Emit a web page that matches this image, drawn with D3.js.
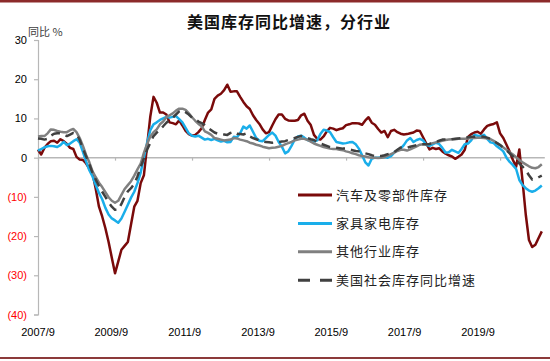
<!DOCTYPE html>
<html><head><meta charset="utf-8">
<script src="https://cdn.jsdelivr.net/npm/d3@7"></script>
<style>
html,body{margin:0;padding:0;background:#fff;}
svg{display:block;}
</style></head>
<body>
<svg id="chart" width="550" height="361"></svg>
<script>
// ---- data (monthly, 2007/9 .. 2020/10) ----
const startYear = 2007, startMonth = 9;
const tickLabels = ["2007/9","2009/9","2011/9","2013/9","2015/9","2017/9","2019/9"];
const yTicks = [30,20,10,0,-10,-20,-30,-40];
const seriesNames = ["汽车及零部件库存","家具家电库存","其他行业库存","美国社会库存同比增速"];

const autoParts = [2,0.8,2.5,3.5,4.2,4.3,3.8,4.7,4.2,3.5,2.5,2.2,0.2,-0.5,-0.6,-1.5,-2.8,-4,-8,-12.5,
-15,-18,-21.5,-25.5,-29.5,-26.5,-23.5,-22.5,-21.5,-17,-12.5,-11,-6.5,-4.5,3,10.5,15.5,14,11.5,11.5,
11,9,8.8,8.5,9.5,8.2,6.8,6,5.6,5.8,6.5,7.5,9.6,11.5,12.3,15,15.8,16.3,17.2,18.6,
16.8,16.9,16.9,15.5,14.2,13.1,12.4,10.8,9.6,8.6,7.2,6.2,6.5,8.2,9.8,11,11,9.9,9.5,9.4,
9.4,9.6,10.8,11.2,9.4,8.3,5.8,4.8,4.6,5.4,6.7,7.6,7.4,7,7.3,7.5,8.3,8.5,8.8,8.8,
8.7,8.4,9.5,10.3,8.9,8.4,7.3,6.4,6.8,5.2,6.8,7.1,6.5,6.1,5.9,6,6.2,6.4,6.9,6.8,
5.2,3.6,2.1,2.5,2.2,2.4,1.6,1,0.6,0.3,-0.3,0.2,0.8,2,5.3,6,6.4,6.6,6.1,7.2,
8.1,8.4,8.6,9,6.2,5,3.3,1.5,-0.6,-2.3,2.1,-6,-14.5,-21,-22.8,-22.2,-20.5,-18.8];

const furniture = [1.8,2.2,2.6,2.9,3,2.9,2.7,3.2,4,3.2,3.6,4.2,4.7,3.8,1.5,-1,-3.2,-4.8,-7,-9,
-10.6,-12.8,-14.5,-15.5,-16,-16.6,-15.5,-13.8,-12,-10.2,-8.7,-6.5,-3.8,0,3.8,7,8.5,9,9.6,10,
10.4,10.2,10.4,10.6,9.8,9,7.6,6.2,5.6,5.4,5.6,5.1,4.6,4.8,4.5,4.8,4.4,4.1,4.3,3.9,
4,5.3,5.2,6.2,7.9,7.4,8.2,6.6,5,4.3,4.2,5,5.8,6.4,5.6,4,2.8,1.1,1.6,3,
4.6,5.4,5.6,5.1,4.5,4.2,4.1,4.4,6,7.1,6.9,6.5,5.2,4,3.8,3.6,3.7,3.9,4,3.4,
2.3,0.6,-1.2,-2,-0.3,0,0,0.1,0.1,0,0.4,1.3,1.9,2.3,3.2,4.4,5,4,4.5,4.8,
4.4,3.3,3,3.4,3.8,3.5,2.5,1.3,1.4,2,1.6,1.2,2.2,3.4,3.6,4.4,5.8,5.6,5.4,5.8,
4.8,3.9,3.7,2.9,2.3,1.6,0,-1.1,-1.9,-2.9,-5.7,-7,-7.8,-8.4,-8.7,-8.4,-7.8,-7.1];

const otherInd = [5.4,5.5,5.5,6.2,7.2,7.1,6.8,6.6,6.5,6.5,7,7.3,6.5,5,3,0.7,-1.2,-3.5,-5,-6.4,
-7.5,-8.8,-10.1,-11,-11.5,-11,-9.5,-8,-7,-6,-4.6,-3,-1.5,1.2,3.5,5.4,6.5,7.2,8.5,9.2,
10.3,10.8,11.3,12,12.5,12.5,12.2,11.3,10.3,9.4,8.6,8,6.7,6.3,5.8,5,4.8,4.6,4.4,4.5,
4.6,5,4.9,4.6,4.4,4.2,3.8,3.6,3.3,3.1,2.8,2.6,2.4,2.5,2.6,2.8,3,3.4,3.7,4,
4.4,4.6,4.8,4.8,4.5,4.1,3.6,3.3,3,2.7,2.5,2.3,2.2,2.2,2,1.9,1.6,1.4,1.1,0.9,
0.6,0.4,0.3,0.1,0,0,-0.1,0,0.1,0.5,0.9,1.3,1.7,2,2,1.8,2.1,2.5,2.9,3.3,
3.4,3.4,3.5,3.7,3.9,4.1,4.3,4.5,4.6,4.7,4.7,4.8,4.8,4.8,4.9,5,5,5.1,5.1,5,
4.9,4.7,4.3,3.8,3.2,2.6,2,1.4,0.8,0.1,-0.6,-1.2,-1.7,-2.2,-2.6,-2.7,-2.4,-1.7];

const totalUS = [4.9,4.8,4.6,4.8,5.6,6.1,6.2,6.2,5.9,5.5,5.9,6.3,6,4.5,2.3,0.3,-1.6,-3.9,-5.6,-7.3,
-8.7,-10,-11.4,-12.5,-13.3,-13.2,-11.8,-10,-8.6,-7.8,-6.7,-4.8,-2.4,-0.2,2,3.8,5.5,6.4,7.2,8,
8.9,9.6,10.2,11,11.8,12.1,11.6,11,10.2,9.8,9.2,8.8,8.3,7.6,7,6.4,6.1,6,5.9,5.8,
6.3,6.6,6.1,6,5.9,6.2,5.4,5,4.7,4.4,4.1,4,3.9,3.8,3.9,4,4.1,4.2,4.5,4.8,
5,5.3,5.5,5.3,5,4.7,4.5,4,3.6,3.3,3,2.7,2.6,2.5,2.4,2.3,2.3,2.1,1.9,1.7,
1.6,1.4,1.1,0.9,0.6,0.4,0.4,0.4,0.6,0.9,1.1,1.4,2,2.6,2.4,2.5,2.8,3,3.2,3.4,
3.4,3.4,3.5,3.7,4,4.3,4.6,4.6,4.6,4.7,4.8,4.9,5,5.1,5.2,5.3,5.3,5.4,5.4,5.3,
5.1,4.8,4.3,3.7,3.2,2.6,1.9,1.1,0.3,-0.5,-1.5,-2.3,-3.2,-4.5,-5.6,-5.5,-5,-4.6];

// ---- chart ----
const svg = d3.select("#chart");
const nMonths = autoParts.length;
const monthIdx = d3.range(nMonths);
const monthLabels = monthIdx.map(i => {
  const t = (startMonth - 1) + i;
  return (startYear + Math.floor(t / 12)) + "/" + (t % 12 + 1);
});

const x = d3.scaleLinear().domain([0, nMonths - 1]).range([38, 541.8]);
const y = d3.scaleLinear().domain([-40, 30]).range([314.5, 40]);
const labelX = d3.scalePoint().domain(tickLabels).range([38, 478]);

const cnFont = "'Noto Sans CJK SC', sans-serif";
const numFont = "'Liberation Sans', Arial, sans-serif";

// frame lines top and bottom
svg.append("rect").attr("x",0).attr("y",0).attr("width",550).attr("height",2.5).attr("fill","#8c2a2a");
svg.append("rect").attr("x",0).attr("y",357).attr("width",550).attr("height",2).attr("fill","#8c3a3a");

// title
svg.append("text").attr("x", 289).attr("y", 28).attr("text-anchor","middle")
  .attr("font-family", cnFont).attr("font-size", 16).attr("font-weight", 700)
  .attr("letter-spacing", 1).attr("fill","#111").text("美国库存同比增速，分行业");

// y unit label
svg.append("text").attr("x", 28).attr("y", 36).attr("font-family", cnFont)
  .attr("font-size", 11).attr("fill","#404040").text("同比 %");

// y axis
const yAxis = d3.axisLeft(y).tickValues(yTicks).tickSize(4)
  .tickFormat(v => v < 0 ? "(" + (-v) + ")" : String(v));
const gy = svg.append("g").attr("transform","translate(38,0)").call(yAxis);
gy.select(".domain").attr("stroke","#b7b7b7").attr("stroke-width",1.2);
gy.selectAll(".tick line").attr("stroke","#b7b7b7").attr("stroke-width",1.2);
gy.selectAll(".tick text").attr("x", -11).attr("font-family", numFont).attr("font-size", 11)
  .attr("fill", d => d < 0 ? "#ff0000" : "#000");

// zero line with month ticks (x axis)
const xAxis = d3.axisBottom(x).tickValues(d3.range(0, nMonths, 24)).tickSize(3).tickFormat("");
const gx = svg.append("g").attr("transform", `translate(0,${y(0)})`).call(xAxis);
gx.select(".domain").attr("stroke","#b7b7b7").attr("stroke-width",1.5)
  .attr("d", `M${x(0)},0H${x(nMonths-1)+3}`);
gx.selectAll(".tick line").attr("stroke","#b7b7b7").attr("stroke-width",1.2);

// x labels
svg.append("g").selectAll("text").data(tickLabels).join("text")
  .attr("x", d => labelX(d)).attr("y", 336).attr("text-anchor","middle")
  .attr("font-family", numFont).attr("font-size", 11).attr("fill","#000").text(d => d);

// series
const line = d3.line().x((d,i) => x(i)).y(d => y(d));
const series = [
  {name: seriesNames[0], values: autoParts, color: "#7a0a0a", dash: null, w: 2.5},
  {name: seriesNames[1], values: furniture, color: "#1aaeea", dash: null, w: 2.5},
  {name: seriesNames[2], values: otherInd, color: "#808080", dash: null, w: 2.5},
  {name: seriesNames[3], values: totalUS, color: "#404040", dash: "9,6", w: 2.5}
];
svg.append("g").selectAll("path").data(series).join("path")
  .attr("d", d => line(d.values)).attr("fill","none")
  .attr("stroke", d => d.color).attr("stroke-width", d => d.w)
  .attr("stroke-linejoin","round")
  .attr("stroke-dasharray", d => d.dash);

// legend
const lg = svg.append("g").selectAll("g").data(series).join("g")
  .attr("transform", (d,i) => `translate(298,${195 + i*28.4})`);
lg.append("line").attr("x1",0).attr("x2",34).attr("y1",0).attr("y2",0)
  .attr("stroke", d => d.color).attr("stroke-width", 3)
  .attr("stroke-dasharray", d => d.dash ? "12,10" : null);
lg.append("text").attr("x", 38).attr("y", 0).attr("dy","0.35em")
  .attr("font-family", cnFont).attr("font-size", 13).attr("letter-spacing", 1)
  .attr("fill","#222").text(d => d.name);
</script>
</body></html>
